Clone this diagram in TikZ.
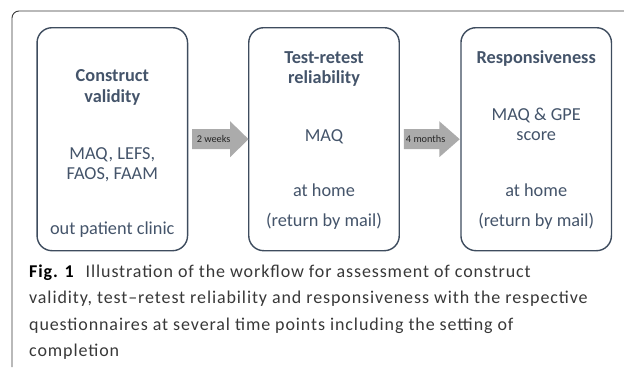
\documentclass[tikz,border=0pt]{standalone}
\usepackage{fontspec}
\setmainfont{Carlito}
\definecolor{slate}{HTML}{44546A}
\definecolor{boxline}{HTML}{3E4C5E}
\definecolor{arrowgray}{HTML}{ABABAB}
\definecolor{capgray}{HTML}{383838}
\begin{document}
\begin{tikzpicture}[x=1pt, y=-1pt,
    stage/.style={draw=boxline, line width=1.4pt, rounded corners=15pt,
      minimum width=150.5pt, minimum height=223pt, inner sep=0pt},
    label/.style={anchor=base, text=slate, font=\fontsize{18.3}{20}\selectfont, inner sep=0pt},
    head/.style={label, font=\fontsize{18.3}{20}\selectfont\bfseries},
    gap/.style={fill=arrowgray, draw=none},
    gaptext/.style={anchor=base west, inner sep=0pt, text=black!85, font=\fontsize{10.3}{11}\selectfont}]
    \useasboundingbox (0,0) rectangle (624,367);

    % Outer frame
    \draw[capgray, line width=0.9pt, rounded corners=7pt] (12,367) -- (12,11) -- (624,11);

    % Stages
    \node[stage] (valid) at (112.3,139.2) {};
    \node[stage] (retest) at (324,139.2) {};
    \node[stage] (resp) at (536.2,139.2) {};

    % Construct validity
    \node[head] (v1) at (112.3,81.7) {Construct};
    \node[head] (v2) at (112.3,102.3) {validity};
    \node[label] (v3) at (112.3,159.3) {MAQ, LEFS,};
    \node[label] (v4) at (112.3,179) {FAOS, FAAM};
    \node[label] (v5) at (112.3,234.3) {out patient clinic};

    % Test-retest reliability
    \node[head] (t1) at (324,63.3) {Test-retest};
    \node[head] (t2) at (324,83.3) {reliability};
    \node[label] (t3) at (324,141) {MAQ};
    \node[label] (t4) at (324,196.7) {at home};
    \node[label] (t5) at (324,226) {(return by mail)};

    % Responsiveness
    \node[head] (r1) at (536.2,63.3) {Responsiveness};
    \node[label] (r2) at (536.2,120) {MAQ \& GPE};
    \node[label] (r3) at (536.2,140) {score};
    \node[label] (r4) at (536.2,196.7) {at home};
    \node[label] (r5) at (536.2,226) {(return by mail)};

    % Time gaps
    \coordinate (w2) at ([xshift=3.8pt]valid.east);
    \coordinate (m4) at ([xshift=3.8pt]retest.east);
    \fill[gap] (w2) ++(0,-10) -- ++(38,0) -- ++(0,-8) -- ++(18.5,18) -- ++(-18.5,18)
      -- ++(0,-8) -- ++(-38,0) -- cycle;
    \fill[gap] (m4) ++(0,-10) -- ++(35.5,0) -- ++(0,-8) -- ++(20.5,18) -- ++(-20.5,18)
      -- ++(0,-8) -- ++(-35.5,0) -- cycle;
    \node[gaptext] (w2t) at ([shift={(4.5,3)}]w2) {2 weeks};
    \node[gaptext] (m4t) at ([shift={(2,3)}]m4) {4 months};

    % Caption
    \node[anchor=base west, align=left, inner sep=0pt, text=capgray,
      font=\fontsize{18}{26.5}\selectfont\addfontfeatures{LetterSpace=5}] (cap) at (29,356.5)
      {\textbf{\color{black}Fig. 1}\hspace{12pt}Illustration of the workflow for assessment of construct\\
       validity, test--retest reliability and responsiveness with the respective\\
       questionnaires at several time points including the setting of\\
       completion};
\end{tikzpicture}
\end{document}
